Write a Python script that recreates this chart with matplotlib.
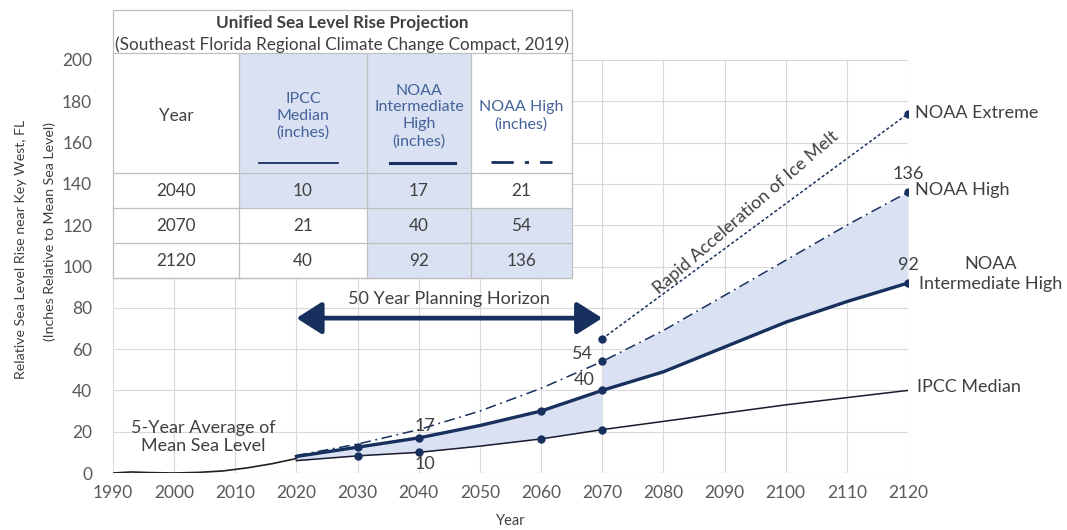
import numpy as np
import matplotlib.pyplot as plt
from matplotlib.patches import Rectangle, FancyArrowPatch
from matplotlib.lines import Line2D

plt.rcParams['font.family'] = ['Lato', 'DejaVu Sans']

# historic 5-year average of mean sea level
hist_years = [1990, 1993, 1996, 2000, 2004, 2008, 2012, 2016, 2020]
hist_msl = [0, 0.5, 0.2, 0, 0.3, 1.0, 2.5, 4.5, 7]

# projections (inches)
proj_years = [2020, 2030, 2040, 2050, 2060, 2070, 2080, 2090, 2100, 2110, 2120]
ipcc_median = [6, 8.3, 10, 13, 16.5, 21, 25, 29, 33, 36.5, 40]
noaa_int_high = [8, 12.5, 17, 23, 30, 40, 49, 61, 73, 83, 92]
noaa_high = [8.5, 14, 21, 30, 41, 54, 69, 86, 103, 120, 136]
extreme_years = [2070, 2120]
noaa_extreme = [65, 174]

# table
tbl_years = ['2040', '2070', '2120']
tbl_ipcc = ['10', '21', '40']
tbl_ih = ['17', '40', '92']
tbl_high = ['21', '54', '136']

navy = '#17305e'
fill_c = '#d9e1f2'
txt = '#404040'
grid_c = '#d9d9d9'
fs = 13
tfs = 12.3
hfs = 11.5

fig = plt.figure(figsize=(10.67, 5.30), dpi=100)
ax = fig.add_axes([113/1067, 1-473/530, (908-113)/1067, (473-60)/530])

ax.set_xlim(1990, 2120)
ax.set_ylim(0, 200)
ax.set_xticks(range(1990, 2121, 10))
ax.set_yticks(range(0, 201, 20))
ax.grid(True, color=grid_c, lw=0.8)
ax.set_axisbelow(True)
for s in ax.spines.values():
    s.set_visible(False)
ax.tick_params(length=0, labelsize=12.5, colors='#595959')
ax.tick_params(axis='x', pad=9)
ax.tick_params(axis='y', pad=15)
ax.set_xlabel('Year', fontsize=10.5, color=txt, labelpad=9)

# y label: two lines placed separately
fig.text(21/1067, 1-120/530, 'Relative Sea Level Rise near Key West, FL', rotation=90,
         ha='center', va='top', fontsize=10.2, color=txt)
fig.text(50/1067, 1-122/530, '(Inches Relative to Mean Sea Level)', rotation=90,
         ha='center', va='top', fontsize=10.2, color=txt)

py = np.array(proj_years)
ip = np.array(ipcc_median)
ih = np.array(noaa_int_high)
hi = np.array(noaa_high)
m1 = py <= 2070
m2 = py >= 2070
ax.fill_between(py[m1], ip[m1], ih[m1], color=fill_c, lw=0)
ax.fill_between(py[m2], ih[m2], hi[m2], color=fill_c, lw=0)

ax.plot(hist_years, hist_msl, color='#222222', lw=1.2)
ax.plot(py, ip, color='#1a1a2e', lw=1.1)
ax.plot(py, ih, color=navy, lw=2.4)
ax.plot(py, hi, color=navy, lw=1.1, dashes=(7, 3, 1.2, 3))
ax.plot(extreme_years, noaa_extreme, color=navy, lw=1.1, dashes=(2, 1.5))

# markers
mk_ip = [1, 2, 4, 5]
mk_ih = [1, 2, 4, 5, 10]
mk_hi = [5, 10]
ax.plot(py[mk_ip], ip[mk_ip], 'o', color=navy, ms=5)
ax.plot(py[mk_ih], ih[mk_ih], 'o', color=navy, ms=5)
ax.plot(py[mk_hi], hi[mk_hi], 'o', color=navy, ms=5)
ax.plot(extreme_years, noaa_extreme, 'o', color=navy, ms=5)

# value labels
ax.text(2041, 23, '17', ha='center', va='center', fontsize=fs, color=txt)
ax.text(2041, 4.5, '10', ha='center', va='center', fontsize=fs, color=txt)
ax.text(2066.8, 57.5, '54', ha='center', va='center', fontsize=fs, color=txt)
ax.text(2067, 45, '40', ha='center', va='center', fontsize=fs, color=txt)
ax.text(2120, 145, '136', ha='center', va='center', fontsize=fs, color=txt)
ax.text(2120, 100.5, '92', ha='center', va='center', fontsize=fs, color=txt)

# series labels on the right
ax.text(2121.2, 174.5, 'NOAA Extreme', ha='left', va='center', fontsize=fs, color=txt, clip_on=False)
ax.text(2121.2, 137, 'NOAA High', ha='left', va='center', fontsize=fs, color=txt, clip_on=False)
ax.text(2133.5, 96.5, 'NOAA\nIntermediate High', ha='center', va='center', fontsize=fs,
        color=txt, clip_on=False, linespacing=1.3)
ax.text(2121.5, 41.5, 'IPCC Median', ha='left', va='center', fontsize=fs, color=txt, clip_on=False)

ax.text(2004.7, 17.5, '5-Year Average of\nMean Sea Level', ha='center', va='center',
        fontsize=fs, color=txt, linespacing=1.2)
ax.text(2093.5, 126, 'Rapid Acceleration of Ice Melt', ha='center', va='center',
        fontsize=fs, color=txt, rotation=41)

# 50 year planning horizon arrow
ax.text(2045, 84.5, '50 Year Planning Horizon', ha='center', va='center', fontsize=fs, color=txt)
arr = FancyArrowPatch((2020, 75), (2070, 75), arrowstyle='<|-|>,head_length=1.1,head_width=0.7',
                      mutation_scale=14, color=navy, lw=3.4, shrinkA=0, shrinkB=0)
ax.add_patch(arr)

# ---- table drawn on top ----
W, H = 1067.0, 530.0
def fx(px):
    return px / W
def fy(py_):
    return 1 - py_ / H

cols = [113, 239, 367, 471, 572]
rows = [53, 173, 208, 243, 278]
edge = '#bfbfbf'

fig.patches.append(Rectangle((fx(113), fy(278)), fx(572) - fx(113), fy(10) - fy(278),
                             transform=fig.transFigure, facecolor='white', edgecolor=edge,
                             lw=0.9, zorder=5))
# shaded cells: (row index, col index), row 0 = header
shaded = [(0, 1), (1, 1), (0, 2), (1, 2), (2, 2), (3, 2), (2, 3), (3, 3)]
for r, c in shaded:
    fig.patches.append(Rectangle((fx(cols[c]), fy(rows[r + 1])), fx(cols[c + 1]) - fx(cols[c]),
                                 fy(rows[r]) - fy(rows[r + 1]), transform=fig.transFigure,
                                 facecolor=fill_c, edgecolor='none', zorder=6))
for yy in rows:
    fig.lines.append(Line2D([fx(113), fx(572)], [fy(yy), fy(yy)], transform=fig.transFigure,
                            color=edge, lw=0.9, zorder=7))
for xx in cols[1:-1]:
    fig.lines.append(Line2D([fx(xx), fx(xx)], [fy(53), fy(278)], transform=fig.transFigure,
                            color=edge, lw=0.9, zorder=7))

fig.text(fx(342), fy(23), 'Unified Sea Level Rise Projection', ha='center', va='center',
         fontsize=tfs, fontweight='bold', color=txt, zorder=8)
fig.text(fx(342), fy(45), '(Southeast Florida Regional Climate Change Compact, 2019)',
         ha='center', va='center', fontsize=tfs, color=txt, zorder=8)

hdr_c = '#45639a'
fig.text(fx(176), fy(116), 'Year', ha='center', va='center', fontsize=tfs, color=txt, zorder=8)
fig.text(fx(303), fy(116), 'IPCC\nMedian\n(inches)', ha='center', va='center', fontsize=hfs,
         color=hdr_c, zorder=8, linespacing=1.25)
fig.text(fx(419), fy(116), 'NOAA\nIntermediate\nHigh\n(inches)', ha='center', va='center',
         fontsize=hfs, color=hdr_c, zorder=8, linespacing=1.25)
fig.text(fx(521), fy(116), 'NOAA High\n(inches)', ha='center', va='center', fontsize=hfs,
         color=hdr_c, zorder=8, linespacing=1.25)

# line samples under headers
fig.lines.append(Line2D([fx(259), fx(338)], [fy(163), fy(163)], transform=fig.transFigure,
                        color=navy, lw=1.3, zorder=8))
fig.lines.append(Line2D([fx(390), fx(455)], [fy(163), fy(163)], transform=fig.transFigure,
                        color=navy, lw=2.2, zorder=8))
fig.lines.append(Line2D([fx(491), fx(552)], [fy(162), fy(162)], transform=fig.transFigure,
                        color=navy, lw=2.0, dashes=(8, 4, 1.5, 4), zorder=8))

row_y = [191, 226, 261]
for i in range(3):
    vals = [tbl_years[i], tbl_ipcc[i], tbl_ih[i], tbl_high[i]]
    for c in range(4):
        fig.text(fx((cols[c] + cols[c + 1]) / 2), fy(row_y[i]), vals[c], ha='center',
                 va='center', fontsize=tfs, color=txt, zorder=8)

fig.savefig('out.png', dpi=100)
